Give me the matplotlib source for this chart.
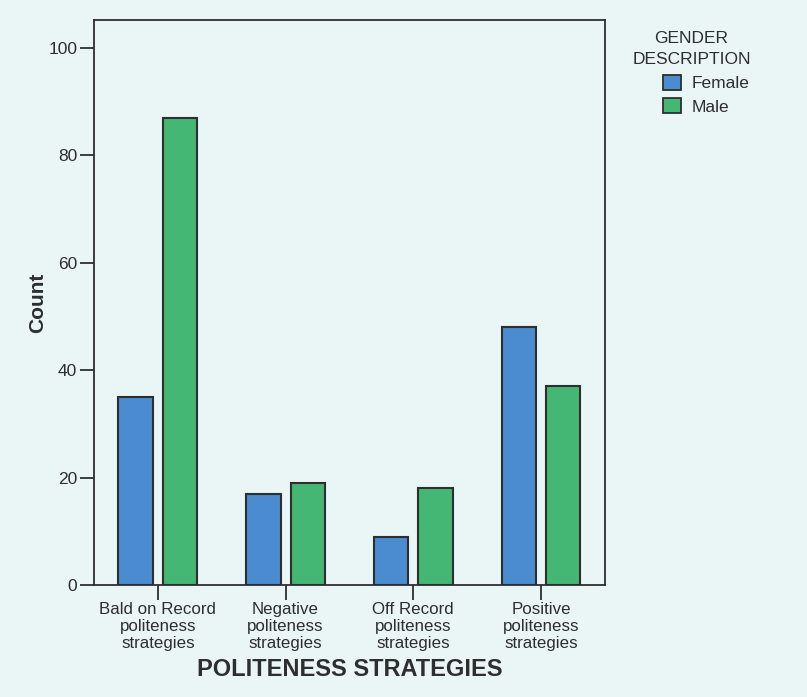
import numpy as np
import matplotlib.pyplot as plt
from matplotlib.patches import Patch

plt.rcParams['font.family'] = ['Liberation Sans', 'DejaVu Sans']

categories = ['Bald on Record\npoliteness\nstrategies',
              'Negative\npoliteness\nstrategies',
              'Off Record\npoliteness\nstrategies',
              'Positive\npoliteness\nstrategies']
female = [35, 17, 9, 48]
male = [87, 19, 18, 37]
series_names = ['Female', 'Male']
colors = ['#4a8ccf', '#45b775']
bg = '#eaf5f6'
ink = '#2e2e2e'

fig = plt.figure(figsize=(8.07, 6.97), dpi=100, facecolor=bg)
ax = fig.add_axes([0.1165, 0.1607, 0.633, 0.8106])
ax.set_facecolor(bg)

x = np.arange(len(categories))
w = 0.27
off = 0.174
ax.bar(x - off, female, w, color=colors[0], edgecolor=ink, linewidth=1.5)
ax.bar(x + off, male, w, color=colors[1], edgecolor=ink, linewidth=1.5)

ax.set_xlim(-0.5, 3.5)
ax.set_ylim(0, 105.2)
ax.set_yticks([0, 20, 40, 60, 80, 100])
ax.set_xticks(x)
ax.set_xticklabels(categories, fontsize=12.2, color=ink, linespacing=1.18)
ax.tick_params(axis='y', labelsize=12.5, colors=ink, length=10, width=1.3, pad=2)
ax.tick_params(axis='x', colors=ink, length=11, width=1.3, pad=1)
for s in ax.spines.values():
    s.set_color(ink)
    s.set_linewidth(1.3)

ax.set_ylabel('Count', fontsize=15, fontweight='bold', color=ink, labelpad=1)
ax.set_xlabel('POLITENESS STRATEGIES', fontsize=17, fontweight='bold', color=ink, labelpad=5)

# legend: title drawn as text, entries placed below it
fig.text(0.857, 0.930, 'GENDER\nDESCRIPTION', ha='center', va='center',
         fontsize=12.5, color=ink, linespacing=1.5)
handles = [Patch(facecolor=c, edgecolor=ink, linewidth=1.3) for c in colors]
leg = fig.legend(handles, series_names, loc='upper left', bbox_to_anchor=(0.822, 0.893),
                 frameon=False, fontsize=12.5, handlelength=1.0, handleheight=1.0,
                 handletextpad=0.6, labelspacing=0.38, labelcolor=ink,
                 borderpad=0, borderaxespad=0)

fig.savefig('out.png', dpi=100, facecolor=bg)
